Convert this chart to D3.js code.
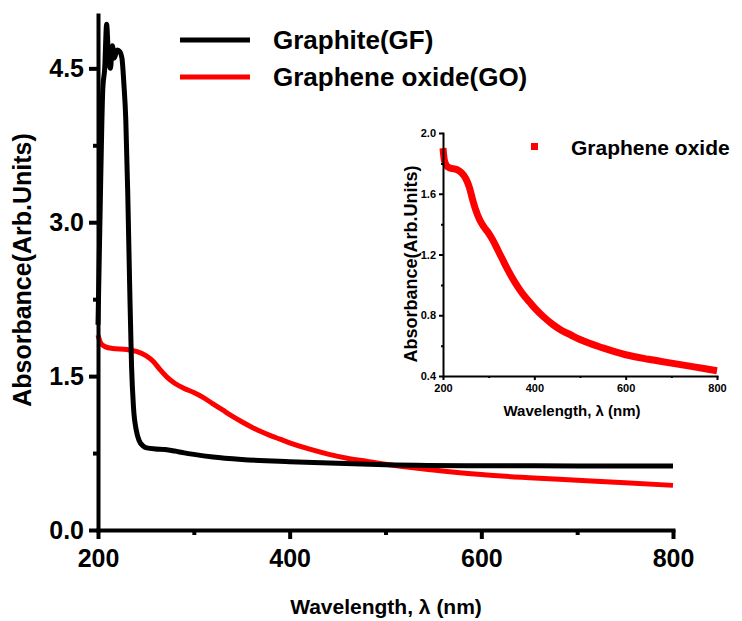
<!DOCTYPE html>
<html>
<head>
<meta charset="utf-8">
<script src="https://cdn.jsdelivr.net/npm/d3@7"></script>
<style>
  html, body { margin: 0; padding: 0; background: #fff; }
  svg text { font-family: "Liberation Sans", Arial, sans-serif; font-weight: bold; fill: #000; }
</style>
</head>
<body>
<svg id="chart" width="742" height="621"></svg>
<script>
// Wavelength (nm) / absorbance pairs for each sample
const graphiteWavelength = [200, 203, 205, 207, 209, 211, 213, 215, 217, 220, 223, 225, 227, 229, 231, 233, 235, 237, 240, 243, 247, 251, 260, 270, 280, 290, 300, 320, 350, 400, 450, 500, 600, 700, 800];
const graphiteAbsorbance = [2.0, 3.5, 4.3, 4.5, 4.93, 4.6, 4.5, 4.72, 4.6, 4.68, 4.66, 4.6, 4.35, 4.0, 3.3, 2.4, 1.6, 1.2, 0.97, 0.87, 0.82, 0.80, 0.79, 0.785, 0.77, 0.752, 0.737, 0.712, 0.688, 0.666, 0.65, 0.637, 0.627, 0.625, 0.625];

const goWavelength = [200, 203, 208, 215, 230, 240, 250, 258, 265, 272, 280, 290, 300, 310, 320, 330, 340, 350, 360, 370, 380, 390, 400, 420, 440, 460, 480, 500, 550, 600, 650, 700, 750, 800];
const goAbsorbance = [1.90, 1.82, 1.785, 1.77, 1.76, 1.74, 1.70, 1.64, 1.56, 1.49, 1.43, 1.38, 1.34, 1.29, 1.23, 1.17, 1.11, 1.055, 1.005, 0.96, 0.92, 0.885, 0.85, 0.79, 0.74, 0.70, 0.67, 0.64, 0.585, 0.54, 0.51, 0.485, 0.46, 0.435];

const seriesNames = ["Graphite(GF)", "Graphene oxide(GO)"];
const seriesColors = ["#000000", "#ff0000"];
const insetLegendName = "Graphene oxide";

const xTicks = [200, 400, 600, 800];
const xMinorTicks = [300, 500, 700];
const yTicks = [0, 1.5, 3.0, 4.5];
const yMinorTicks = [0.75, 2.25, 3.75];
const insetYTicks = [0.4, 0.8, 1.2, 1.6, 2.0];
const insetYMinorTicks = [0.6, 1.0, 1.4, 1.8];

const xTitle = "Wavelength, \u03bb (nm)";
const yTitle = "Absorbance(Arb.Units)";

const graphite = graphiteWavelength.map((w, i) => ({ x: w, y: graphiteAbsorbance[i] }));
const go = goWavelength.map((w, i) => ({ x: w, y: goAbsorbance[i] }));

const svg = d3.select("#chart");

// ---------- main panel ----------
const x = d3.scaleLinear().domain([200, 800]).range([98, 673]);
const y = d3.scaleLinear().domain([0, 5.02]).range([530, 15]);

const line = d3.line().x(d => x(d.x)).y(d => y(d.y)).curve(d3.curveMonotoneX);

svg.append("path").datum(go)
  .attr("d", line).attr("fill", "none")
  .attr("stroke", seriesColors[1]).attr("stroke-width", 5).attr("stroke-linejoin", "round");
svg.append("path").datum(graphite)
  .attr("d", line).attr("fill", "none")
  .attr("stroke", seriesColors[0]).attr("stroke-width", 5).attr("stroke-linejoin", "round");

function styleAxis(g, width) {
  g.select(".domain").attr("stroke", "#000").attr("stroke-width", width).attr("stroke-linecap", "square");
  g.selectAll(".tick line").attr("stroke", "#000").attr("stroke-width", width);
}

// x axis
const gx = svg.append("g").attr("transform", `translate(0,${y(0)})`)
  .call(d3.axisBottom(x).tickValues(xTicks).tickSize(9).tickSizeOuter(0).tickPadding(8).tickFormat(d3.format("d")));
styleAxis(gx, 4);
gx.selectAll(".tick text").style("font-size", "25px").attr("dy", "0.8em");
const gxm = svg.append("g").attr("transform", `translate(0,${y(0)})`)
  .call(d3.axisBottom(x).tickValues(xMinorTicks).tickSize(5).tickFormat(""));
gxm.select(".domain").remove();
gxm.selectAll(".tick line").attr("stroke", "#000").attr("stroke-width", 4);

// y axis
const gy = svg.append("g").attr("transform", `translate(${x(200)},0)`)
  .call(d3.axisLeft(y).tickValues(yTicks).tickSize(9).tickSizeOuter(0).tickPadding(5).tickFormat(d3.format(".1f")));
styleAxis(gy, 4);
gy.selectAll(".tick text").style("font-size", "25px");
const gym = svg.append("g").attr("transform", `translate(${x(200)},0)`)
  .call(d3.axisLeft(y).tickValues(yMinorTicks).tickSize(5).tickFormat(""));
gym.select(".domain").remove();
gym.selectAll(".tick line").attr("stroke", "#000").attr("stroke-width", 4);

svg.append("text").attr("x", 386).attr("y", 614).attr("text-anchor", "middle")
  .style("font-size", "21px").text(xTitle);
svg.append("text").attr("transform", "translate(31,270) rotate(-90)").attr("text-anchor", "middle")
  .style("font-size", "25px").text(yTitle);

// legend
seriesNames.forEach((name, i) => {
  const ly = 40 + i * 37;
  svg.append("line").attr("x1", 180).attr("x2", 250).attr("y1", ly).attr("y2", ly)
    .attr("stroke", seriesColors[i]).attr("stroke-width", 5);
  svg.append("text").attr("x", 273).attr("y", ly + 9).style("font-size", "26px").text(name);
});

// ---------- inset panel ----------
const xi = d3.scaleLinear().domain([200, 800]).range([443, 717]);
const yi = d3.scaleLinear().domain([0.4, 2.0]).range([376, 133]);
const lineInset = d3.line().x(d => xi(d.x)).y(d => yi(d.y)).curve(d3.curveMonotoneX);

svg.append("path").datum(go)
  .attr("d", lineInset).attr("fill", "none")
  .attr("stroke", seriesColors[1]).attr("stroke-width", 7).attr("stroke-linejoin", "round");

const gxi = svg.append("g").attr("transform", `translate(0,${yi(0.4)})`)
  .call(d3.axisBottom(xi).tickValues(xTicks).tickSize(4).tickSizeOuter(0).tickPadding(3).tickFormat(d3.format("d")));
styleAxis(gxi, 2);
gxi.selectAll(".tick text").style("font-size", "11px").attr("dy", "0.8em");
const gxim = svg.append("g").attr("transform", `translate(0,${yi(0.4)})`)
  .call(d3.axisBottom(xi).tickValues(xMinorTicks).tickSize(2).tickFormat(""));
gxim.select(".domain").remove();
gxim.selectAll(".tick line").attr("stroke", "#000").attr("stroke-width", 2);

const gyi = svg.append("g").attr("transform", `translate(${xi(200)},0)`)
  .call(d3.axisLeft(yi).tickValues(insetYTicks).tickSize(4).tickSizeOuter(0).tickPadding(3).tickFormat(d3.format(".1f")));
styleAxis(gyi, 2);
gyi.selectAll(".tick text").style("font-size", "11px");
const gyim = svg.append("g").attr("transform", `translate(${xi(200)},0)`)
  .call(d3.axisLeft(yi).tickValues(insetYMinorTicks).tickSize(2).tickFormat(""));
gyim.select(".domain").remove();
gyim.selectAll(".tick line").attr("stroke", "#000").attr("stroke-width", 2);

svg.append("text").attr("x", 572).attr("y", 416).attr("text-anchor", "middle")
  .style("font-size", "15px").text(xTitle);
svg.append("text").attr("transform", "translate(417,264) rotate(-90)").attr("text-anchor", "middle")
  .style("font-size", "18px").text(yTitle);

svg.append("rect").attr("x", 531).attr("y", 143).attr("width", 7).attr("height", 7).attr("fill", seriesColors[1]);
svg.append("text").attr("x", 571).attr("y", 155).style("font-size", "21px").text(insetLegendName);
</script>
</body>
</html>
